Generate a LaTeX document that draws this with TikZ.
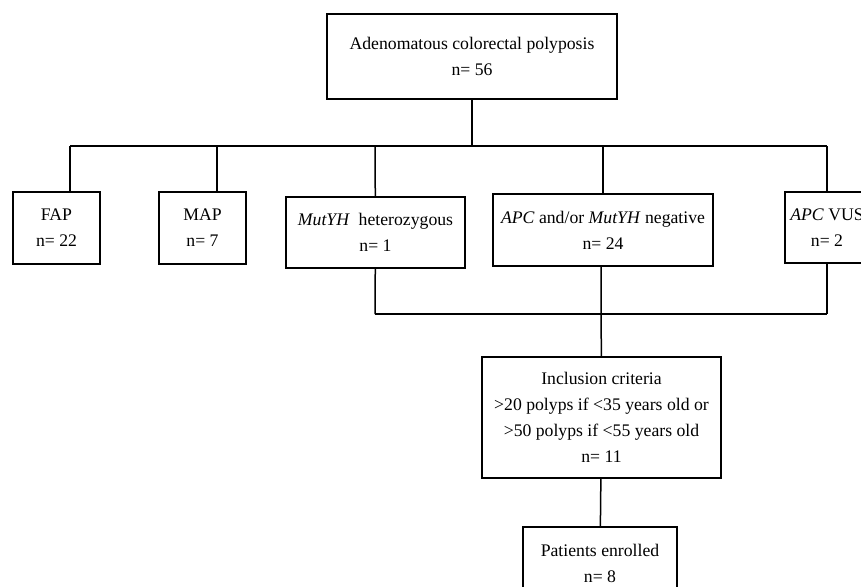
\documentclass[tikz,border=0pt]{standalone}
\usepackage{fontspec}
\setmainfont{Liberation Serif}
\usepackage{tikz}

\begin{document}
\begin{tikzpicture}
  [x=1pt,y=-1pt,
  box/.style={rectangle,draw=black,line width=1.5pt,align=center,
                  inner sep=2pt,outer sep=0,
                  font=\fontsize{17.7}{26}\selectfont},
  link/.style={draw=black,line width=1.5pt}
                  ]
  \useasboundingbox (0,0) rectangle (861,586);
  \clip (0,0) rectangle (861,586);

  \node[box,minimum width=290,minimum height=85] (acp) at (472,56.5)
    {Adenomatous colorectal polyposis\\n= 56};
  \node[box,minimum width=87,minimum height=72] (fap) at (56.5,228)
    {FAP\\n= 22};
  \node[box,minimum width=87,minimum height=72] (map) at (202.5,228)
    {MAP\\n= 7};
  \node[box,minimum width=179,minimum height=71] (muthet) at (375.5,232.5)
    {\textit{MutYH}~ heterozygous\\n= 1};
  \node[box,minimum width=220,minimum height=72] (apcneg) at (603,230)
    {\textit{APC} and/or \textit{MutYH} negative\\n= 24};
  \node[box,minimum width=84,minimum height=71] (apcvus) at (827,227.5)
    {\textit{APC} VUS\\n= 2};
  \node[box,minimum width=239,minimum height=121] (incl) at (601.5,417.5)
    {Inclusion criteria\\>20 polyps if <35 years old or\\>50 polyps if <55 years old\\n= 11};
  \node[box,minimum width=154,minimum height=72] (enrol) at (600,563)
    {Patients enrolled\\n= 8};

  \coordinate (m1) at (472,146) {};
  \coordinate (m2) at (70,146) {};
  \coordinate (m3) at (217,146) {};
  \coordinate (m4) at (375,146) {};
  \coordinate (m5) at (603,146) {};
  \coordinate (m6) at (827,146) {};
  \coordinate (m7) at (375,314) {};
  \coordinate (m8) at (601,314) {};
  \coordinate (m9) at (827,314) {};

  \draw[link] (acp) to (m1);
  \draw[link] (m2) to (m6);
  \draw[link] (m2) to (m2 |- fap.north);
  \draw[link] (m3) to (m3 |- map.north);
  \draw[link] (m4) to (muthet);
  \draw[link] (m5) to (apcneg);
  \draw[link] (m6) to (apcvus);
  \draw[link] (muthet) to (m7);
  \draw[link] (apcvus) to (m9);
  \draw[link] (m7) to (m9);
  \draw[link] (m8 |- apcneg.south) to (incl);
  \draw[link] (incl) to (enrol);
\end{tikzpicture}
\end{document}
